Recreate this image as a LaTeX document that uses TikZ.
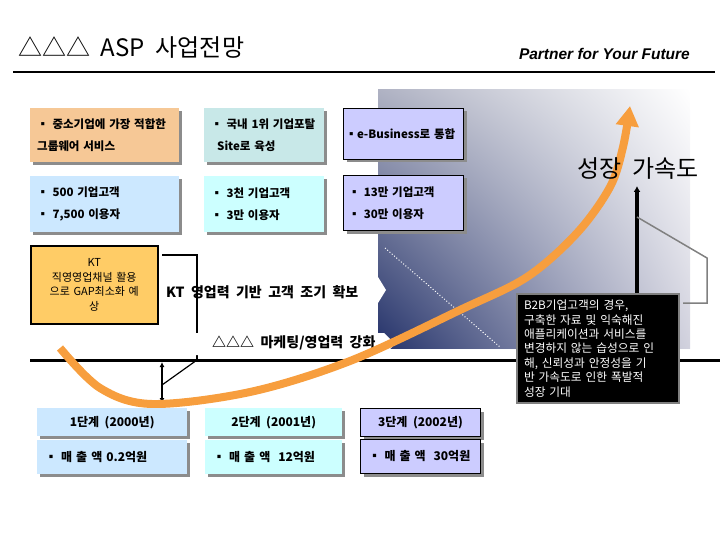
\documentclass[tikz,border=0pt]{standalone}
\usepackage{fontspec}
\setmainfont{Noto Sans CJK KR}
\newfontfamily\kr[WordSpace=2]{Noto Sans CJK KR}
\newfontfamily\lsans{Liberation Sans}
\usetikzlibrary{arrows.meta,shadows,shadings}
\definecolor{orangebox}{RGB}{246,200,150}
\definecolor{tealbox}{RGB}{200,232,232}
\definecolor{lavbox}{RGB}{204,204,255}
\definecolor{bluebox}{RGB}{204,232,255}
\definecolor{cyanbox}{RGB}{204,255,255}
\definecolor{ktbox}{RGB}{255,204,102}
\definecolor{curveor}{RGB}{247,158,62}
\definecolor{navyc}{RGB}{36,50,106}
\definecolor{ulc}{RGB}{175,178,195}
\definecolor{lrc}{RGB}{210,210,222}
\tikzset{
  shad/.style={drop shadow={shadow xshift=3pt, shadow yshift=-3pt, fill=black!45, opacity=1}},
  infobox/.style={shad, anchor=north west, inner xsep=7pt, inner ysep=0pt,
    font=\kr\bfseries\fontsize{11.5}{22}\selectfont, align=left},
  hdrbox/.style={shad, anchor=north west, inner sep=0pt,
    font=\kr\bfseries\fontsize{12}{14}\selectfont, align=center},
  bodybox/.style={shad, anchor=north west, inner xsep=8pt, inner ysep=0pt,
    font=\kr\bfseries\fontsize{12}{14}\selectfont, align=left},
  bandtext/.style={anchor=west, inner sep=0pt, font=\kr\bfseries\fontsize{14}{16}\selectfont},
  thinline/.style={line width=1.2pt},
}
\begin{document}
\begin{tikzpicture}[x=1pt,y=-1pt]
\useasboundingbox (0,0) rectangle (720,540);
% gradient panel
\shade[lower left=navyc, upper left=ulc, upper right=white, lower right=lrc] (378,90) rectangle (690,348);
\draw[white, dotted, line width=1pt] (385,248) -- (500,347);
% title
\node[anchor=west, inner sep=0pt, font=\kr\fontsize{24}{27}\selectfont] (title) at (18,48) {△△△ ASP 사업전망};
\node[anchor=east, inner sep=0pt, font=\lsans\bfseries\itshape\fontsize{15.5}{18}\selectfont] (partner) at (690,54) {Partner for Your Future};
\coordinate (tl1) at (13,72); \coordinate (tl2) at (715,72);
\draw[line width=1.5pt] (tl1) -- (tl2);
% row 1
\node[infobox, fill=orangebox, minimum width=149pt, minimum height=54pt, text width=135pt] (b1) at (30,108) {▪ 중소기업에 가장 적합한\\ 그룹웨어 서비스};
\node[infobox, fill=tealbox, minimum width=120pt, minimum height=54pt, text width=106pt] (b2) at (204,108) {▪ 국내 1위 기업포탈\\ \hspace*{6pt}Site로 육성};
\node[infobox, draw=black, line width=1pt, fill=lavbox, minimum width=120pt, minimum height=51pt, inner xsep=2pt, text width=116pt] (b3) at (343,108) {▪e-Business로 통합};
% row 2
\node[infobox, fill=bluebox, minimum width=149pt, minimum height=56pt, text width=135pt] (b4) at (30,176) {▪ 500 기업고객\\ ▪ 7,500 이용자};
\node[infobox, fill=cyanbox, minimum width=120pt, minimum height=56pt, text width=106pt] (b5) at (204,176) {▪ 3천 기업고객\\ ▪ 3만 이용자};
\node[infobox, draw=black, line width=1pt, fill=lavbox, minimum width=120pt, minimum height=55pt, inner xsep=5pt, text width=110pt] (b6) at (343,175) {▪ 13만 기업고객\\ ▪ 30만 이용자};
% KT box
\node[anchor=north west, draw=black, line width=1.5pt, fill=ktbox, minimum width=127pt, minimum height=78pt, inner sep=0pt, text width=124pt, align=center, font=\kr\fontsize{11}{14.5}\selectfont] (kt) at (30,245) {KT\\ 직영영업채널 활용\\ 으로 GAP최소화 예\\ 상};
% base line
\coordinate (bl1) at (30,360); \coordinate (bl2) at (720,360);
\draw[line width=3pt] (bl1) -- (bl2);
% bracket
\coordinate (br1) at (162,255); \coordinate (br2) at (197,255); \coordinate (br3) at (197,360);
\coordinate (dg) at (162,385);
\draw[line width=1.8pt] (br1) -- (br2) -- (br3);
\draw[thinline] (br3) -- (dg);
\coordinate (da1) at (162,362); \coordinate (da2) at (162,403);
\draw[thinline, {Latex[length=5pt,width=5pt]}-{Latex[length=5pt,width=5pt]}] (da1) -- (da2);
% white bands
\fill[white] (203,277) -- (378,277) -- (386,290) -- (378,303) -- (203,303) -- cycle;
\node[bandtext] (t1) at (166,292) {KT 영업력 기반 고객 조기 확보};
\fill[white] (175,333) -- (384,333) -- (395,344) -- (384,355) -- (175,355) -- cycle;
\node[bandtext] (t2) at (212,343) {△△△ 마케팅/영업력 강화};
% orange growth curve
\draw[curveor, line width=8pt, -{Triangle[width=22pt,length=20pt]}] plot[smooth, tension=0.55] coordinates {(60,348) (100,388) (152,404) (250,392) (350,361) (460,310) (527,277) (577,233) (610,187) (623,147) (630,106)};
% growth label
\node[inner sep=0pt, font=\kr\fontsize{24}{26}\selectfont] (grow) at (638,169) {성장 가속도};
% black note box
\node[anchor=north west, fill=black, draw=black!50, line width=2pt, minimum width=162pt, minimum height=109pt, inner xsep=7pt, text width=148pt, align=left, text=white, font=\kr\fontsize{11.7}{14.4}\selectfont] (note) at (516,293) {B2B기업고객의 경우,\\ 구축한 자료 및 익숙해진\\ 애플리케이션과 서비스를\\ 변경하지 않는 습성으로 인\\ 해, 신뢰성과 안정성을 기\\ 반 가속도로 인한 폭발적\\ 성장 기대};
\coordinate (va1) at (637,293); \coordinate (va2) at (637,186);
\draw[line width=3.5pt, -{Latex[length=6pt,width=7pt]}] (va1) -- (va2);
\coordinate (g1) at (637,217); \coordinate (g2) at (707,258); \coordinate (g3) at (707,303); \coordinate (g4) at (683,303);
\draw[black!50, line width=1.5pt] (g1) -- (g2) -- (g3) -- (g4);
% bottom stage boxes
\node[hdrbox, fill=bluebox, minimum width=150pt, minimum height=28pt] (s1) at (37,408) {1단계 (2000년)};
\node[bodybox, fill=bluebox, minimum width=150pt, minimum height=34pt, text width=134pt] (s1b) at (37,440) {▪ 매 출 액 0.2억원};
\node[hdrbox, fill=cyanbox, minimum width=137pt, minimum height=28pt] (s2) at (205,408) {2단계 (2001년)};
\node[bodybox, fill=cyanbox, minimum width=137pt, minimum height=34pt, text width=121pt] (s2b) at (205,440) {▪ 매 출 액 \ 12억원};
\node[hdrbox, draw=black, line width=1pt, fill=lavbox, minimum width=120pt, minimum height=28pt] (s3) at (360,408) {3단계 (2002년)};
\node[bodybox, draw=black, line width=1pt, fill=lavbox, minimum width=120pt, minimum height=34pt, text width=104pt] (s3b) at (360,439) {▪ 매 출 액 \ 30억원};
\end{tikzpicture}
\end{document}
